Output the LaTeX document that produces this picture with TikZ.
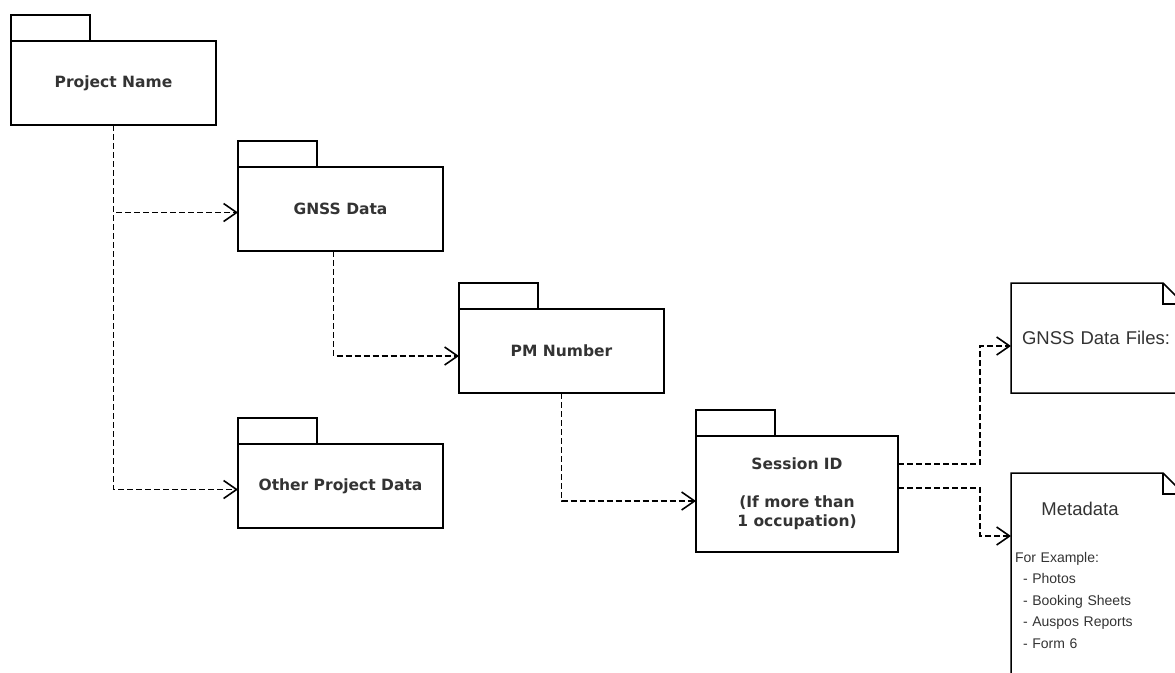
\documentclass[tikz,border=0pt]{standalone}
\usepackage{fontspec}
\setmainfont{Liberation Sans}
\newfontfamily\pkgfont{DejaVu Sans}
\usetikzlibrary{arrows.meta}

\begin{document}
\begin{tikzpicture}[x=1pt,y=-1pt,
    package/.style={draw,line width=1.5pt,outer sep=0pt,anchor=north west,
        minimum width=205pt,minimum height=84pt,align=center,text=black!80,
        font=\pkgfont\bfseries\fontsize{15.5}{19}\selectfont},
    note/.style={outer sep=0pt,anchor=north west,minimum width=173pt,align=left,
        text=black!80,font=\fontsize{14}{21.5}\selectfont},
    dep/.style={line width=1.6pt,dash pattern=on 6pt off 3pt,
        -{Straight Barb[length=13pt,width=18pt]}}
]
    \useasboundingbox (0,0) rectangle (1175,672);
    \clip (0,0) rectangle (1175,672);

    \node[package] (pn) at (11,41) {Project Name};
    \node[package] (gnss) at (238,167) {GNSS Data};
    \node[package] (other) at (238,444) {Other Project Data};
    \node[package] (pm) at (459,309) {PM Number};
    \node[package,minimum width=202pt,minimum height=116pt] (sess) at (696,436)
        {Session ID\\ \\(If more than\\1 occupation)};
    \foreach \p in {pn,gnss,other,pm,sess}
        \draw[line width=1.5pt] (\p.north west) rectangle ++(79,-26);

    \node[note,minimum height=110pt,text width=151pt,inner xsep=11pt,
        font=\fontsize{18.5}{22}\selectfont] (files) at (1011,283) {GNSS Data Files:};
    \node[note,minimum height=204pt,text width=165pt,inner xsep=4pt] (meta) at (1011,473)
        {\makebox[130pt]{\fontsize{18.5}{22}\selectfont Metadata}\\[25.5pt]
         For Example:\\
         \hspace*{8pt}- Photos\\
         \hspace*{8pt}- Booking Sheets\\
         \hspace*{8pt}- Auspos Reports\\
         \hspace*{8pt}- Form 6};
    \foreach \n in {files,meta} {
        \draw[line width=1.5pt] (\n.north west) -- ([xshift=-21pt]\n.north east)
            -- ([yshift=-21pt]\n.north east) -- (\n.south east) -- (\n.south west) -- cycle;
        \draw[line width=1.5pt] ([xshift=-21pt]\n.north east) |- ([yshift=-21pt]\n.north east);
    }

    \draw[dep] (pn.south) |- ([yshift=-3.5pt]gnss.west);
    \draw[dep] (pn.south) |- ([yshift=-3.5pt]other.west);
    \draw[dep] ([xshift=-7pt]gnss.south) |- ([yshift=-5pt]pm.west);
    \draw[dep] (pm.south) |- ([yshift=-7pt]sess.west);
    \draw[dep] ([yshift=30pt]sess.east) -- ++(82,0) |- ([yshift=-8pt]files.west);
    \draw[dep] ([yshift=6pt]sess.east) -- ++(82,0) |- ([yshift=39pt]meta.west);
\end{tikzpicture}
\end{document}
